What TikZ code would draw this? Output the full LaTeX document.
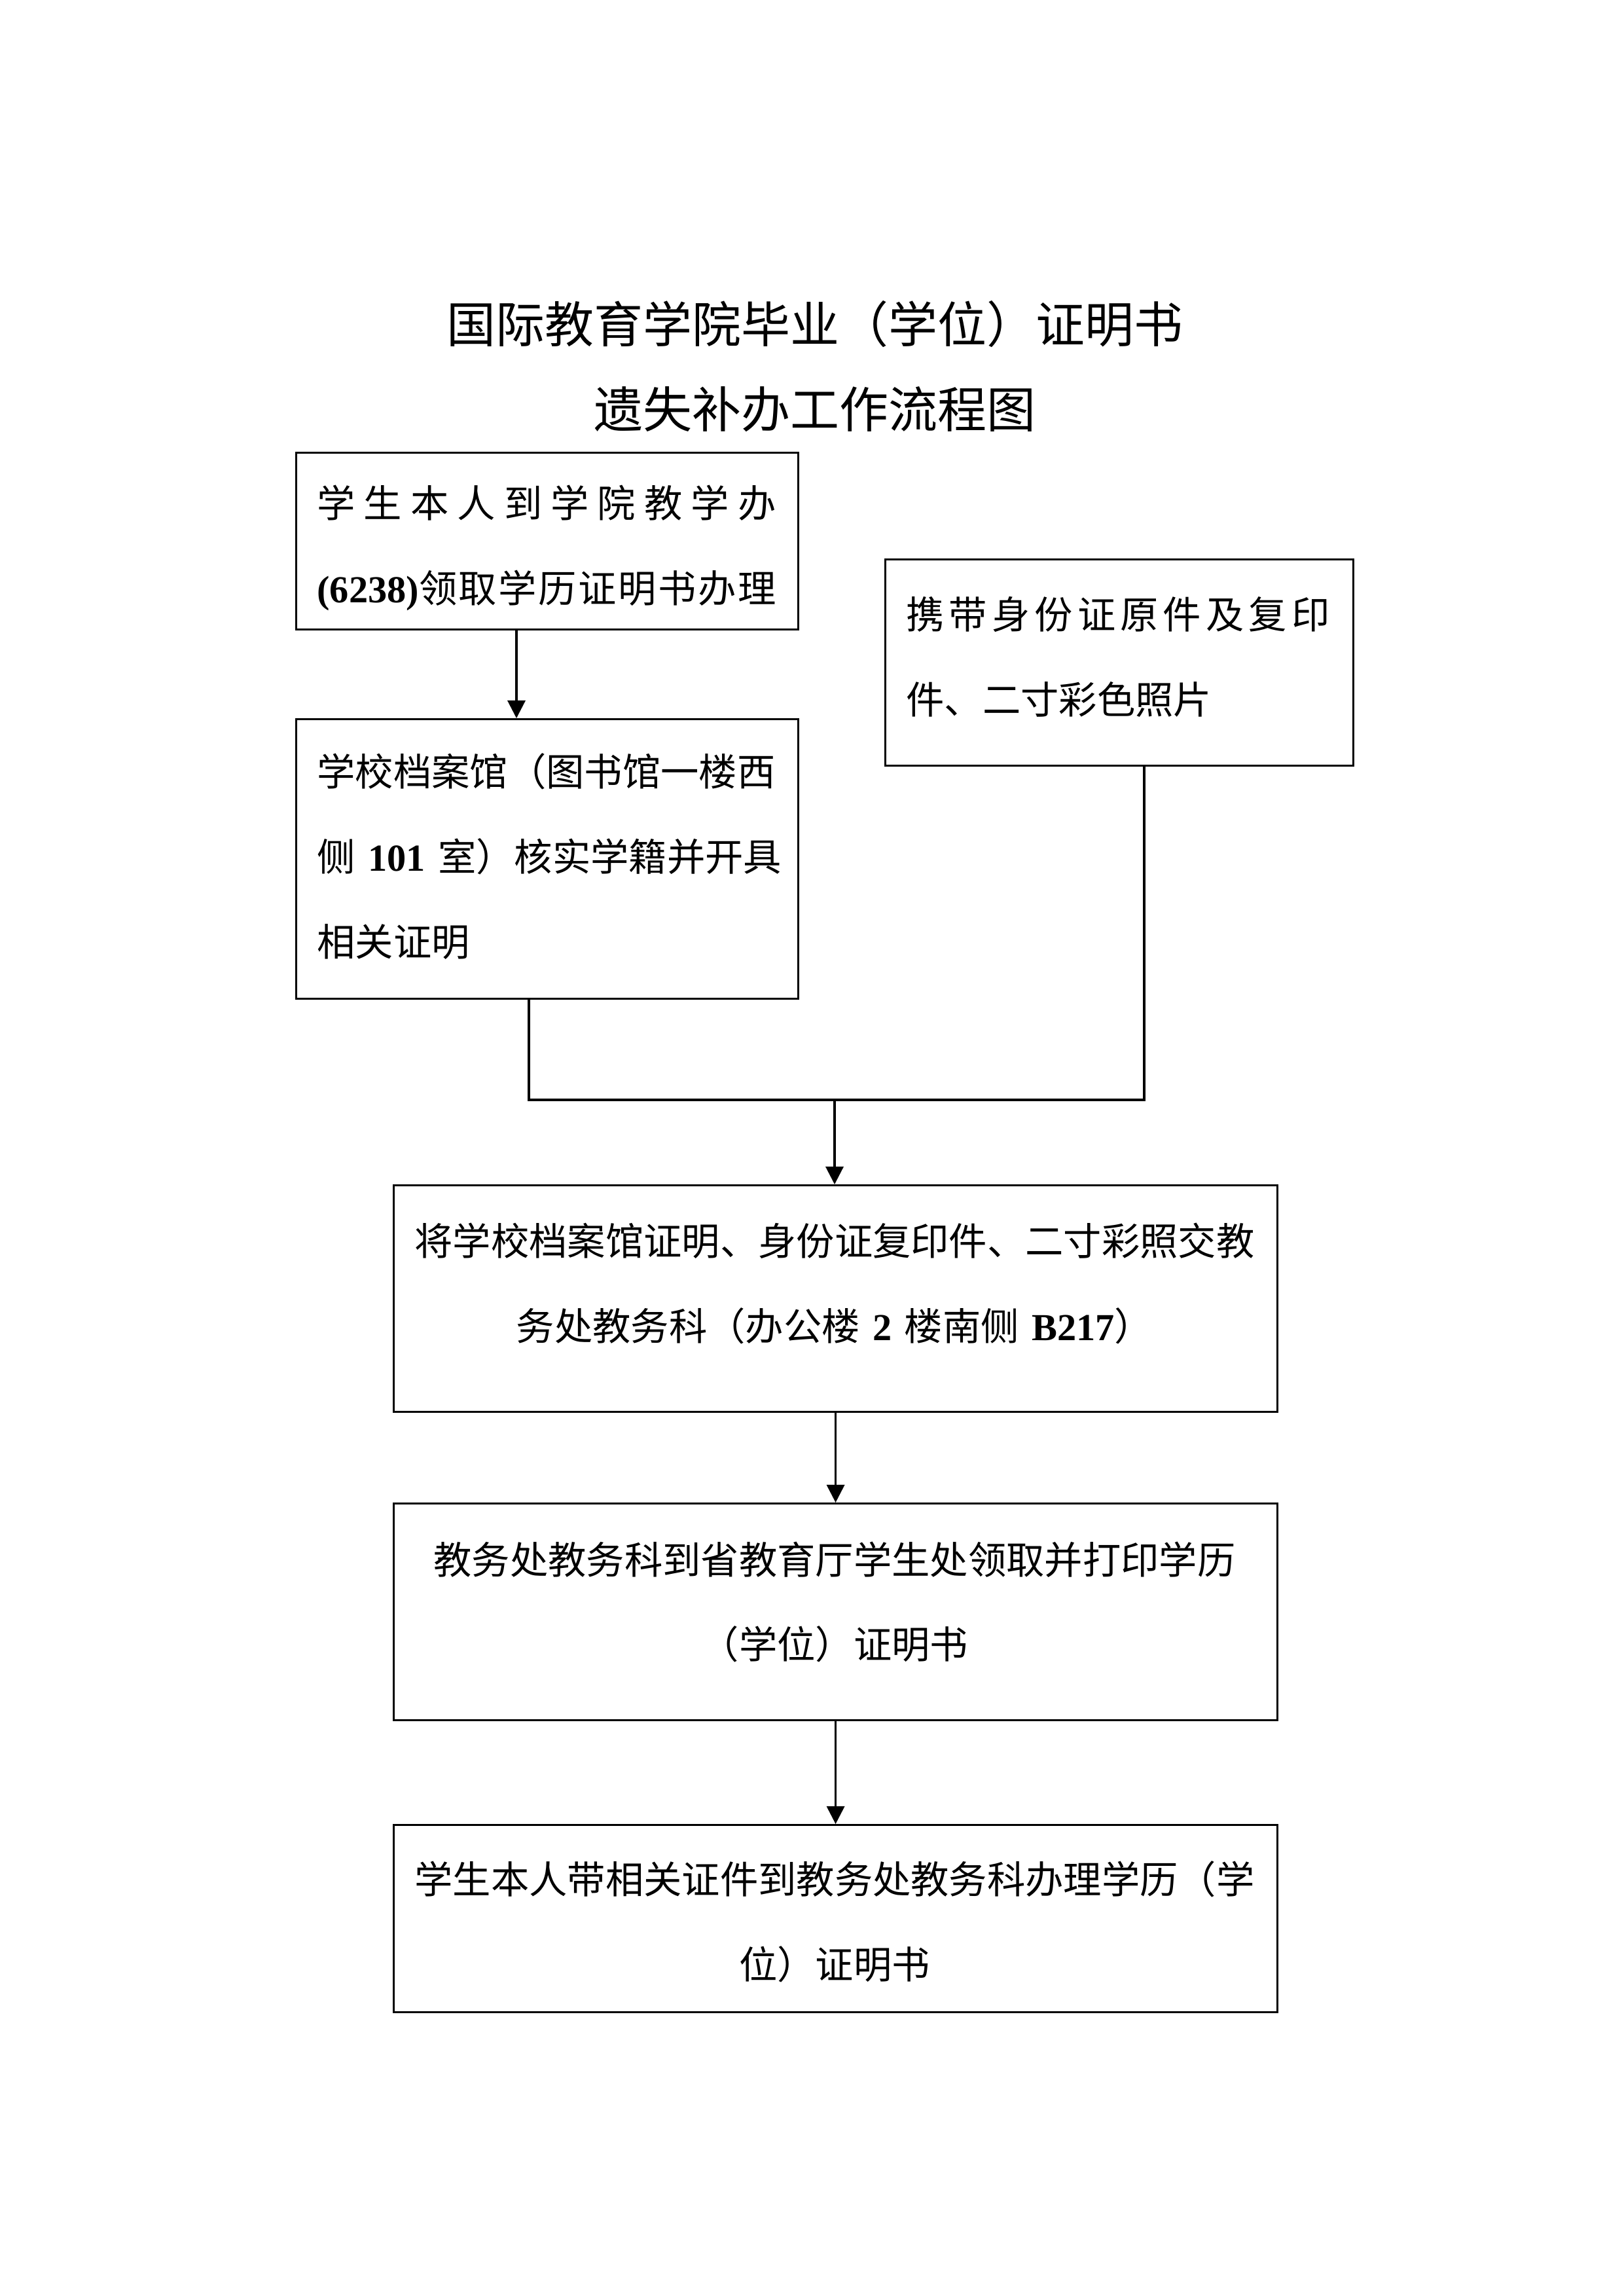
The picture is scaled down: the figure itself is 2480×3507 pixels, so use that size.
\documentclass[tikz,border=0pt]{standalone}
\usepackage{fontspec}
\setmainfont{Noto Sans CJK SC}
\newfontfamily\tnr{Liberation Serif}
\usetikzlibrary{arrows.meta}
\newcommand\pxu{0.24003pt}
\newcommand\nb[1]{{\tnr\bfseries #1}}
\begin{document}
\begin{tikzpicture}[x=0.24003pt,y=-0.24003pt,
  box/.style={draw,line width=0.75pt,inner sep=0pt,anchor=north west},
  txt/.style={inner sep=0pt,font=\fontsize{14pt}{31.2pt}\selectfont},
  ltxt/.style={txt,align=left},
  ctxt/.style={txt,align=center,text width={1330*\pxu}},
  ttl/.style={inner sep=0pt,font=\fontsize{18pt}{31.2pt}\selectfont,align=center},
  ln/.style={line width=0.75pt},
  arr/.style={line width=0.75pt,-{Triangle[length=6.5pt,width=6.5pt]}}]
\useasboundingbox (0,0) rectangle (2480,3507);

\node[ttl] (title) at (1245,560) {国际教育学院毕业（学位）证明书\\遗失补办工作流程图};

% boxes
\node[box,minimum width={767*\pxu},minimum height={270*\pxu}] (b1) at (451,690) {};
\node[box,minimum width={767*\pxu},minimum height={427*\pxu}] (b2) at (451,1097) {};
\node[box,minimum width={715*\pxu},minimum height={315*\pxu}] (b3) at (1351,853) {};
\node[box,minimum width={1350*\pxu},minimum height={346*\pxu}] (b4) at (600,1809) {};
\node[box,minimum width={1350*\pxu},minimum height={331*\pxu}] (b5) at (600,2295) {};
\node[box,minimum width={1350*\pxu},minimum height={286*\pxu}] (b6) at (600,2786) {};

% texts
\node[ltxt,text width={701*\pxu}] (t1) at (835,837) {\makebox[\hsize][s]{学\hfill 生\hfill 本\hfill 人\hfill 到\hfill 学\hfill 院\hfill 教\hfill 学\hfill 办}\\
\makebox[\hsize][s]{\nb{(6238)}领\hfill 取\hfill 学\hfill 历\hfill 证\hfill 明\hfill 书\hfill 办\hfill 理}};
\node[ltxt,text width={701*\pxu}] (t2) at (835,1308) {学校档案馆（图书馆一楼西\\
\makebox[\hsize][s]{侧 \nb{101} 室）核实学籍并开具}\\
相关证明};
\node[ltxt,text width={647*\pxu}] (t3) at (1708,1003) {\makebox[\hsize][s]{携\hfill 带\hfill 身\hfill 份\hfill 证\hfill 原\hfill 件\hfill 及\hfill 复\hfill 印}\\
件、二寸彩色照片};
\node[ctxt] (t4) at (1275,1961) {将学校档案馆证明、身份证复印件、二寸彩照交教\\务处教务科（办公楼 \nb{2} 楼南侧 \nb{B217}）};
\node[ctxt] (t5) at (1275,2447) {教务处教务科到省教育厅学生处领取并打印学历\\（学位）证明书};
\node[ctxt] (t6) at (1275,2935) {学生本人带相关证件到教务处教务科办理学历（学\\位）证明书};

% connectors
\coordinate (xa) at (789,0);
\coordinate (xb) at (808,0);
\coordinate (xc) at (1748,0);
\coordinate (j) at (1275,1680);
\draw[arr] (xa |- b1.south) -- (xa |- b2.north);
\draw[ln] (xb |- b2.south) -- (xb |- j) -- (xc |- j) -- (xc |- b3.south);
\draw[arr] (j) -- (j |- b4.north);
\draw[arr] (b4.south) -- (b5.north);
\draw[arr] (b5.south) -- (b6.north);
\end{tikzpicture}
\end{document}
